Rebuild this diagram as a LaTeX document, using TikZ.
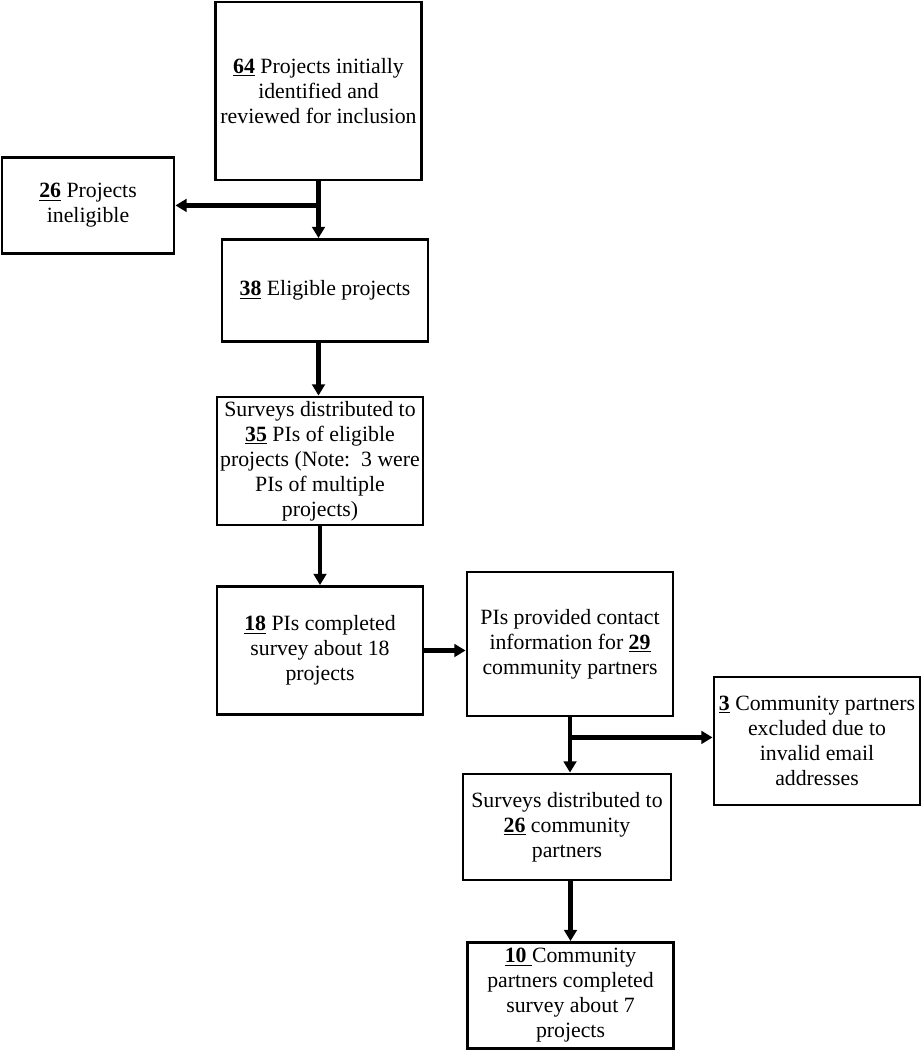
\documentclass[tikz,border=0pt]{standalone}
\usepackage{fontspec}
\setmainfont{Liberation Serif}
\usetikzlibrary{arrows.meta,positioning}
\newcommand{\cnt}[1]{\underline{\textbf{#1}}}

\begin{document}
\begin{tikzpicture}[x=0.025cm,y=-0.025cm,
  box/.style={draw,line width=2pt,align=center,inner sep=2pt,
    font=\fontsize{15.5}{17.8}\selectfont,minimum width=5.15cm},
  arr/.style={line width=3pt,-{Triangle[length=8pt,width=9pt]}}]
\useasboundingbox (0,0) rectangle (921,1050);
% left column
\node[box,minimum height=4.45cm] (top) at (318.5,91) {\cnt{64} Projects initially\\identified and\\reviewed for inclusion};
\node[box,minimum width=4.3cm,minimum height=2.4cm] (inel) at (88,205.5) {\cnt{26} Projects\\ineligible};
\node[box,minimum height=2.55cm] (elig) at (325,290.5) {\cnt{38} Eligible projects};
\node[box,minimum height=3.2cm] (surv) at (320,461) {Surveys distributed to\\\cnt{35} PIs of eligible\\projects (Note:\ \ 3 were\\PIs of multiple\\projects)};
\node[box,minimum height=3.2cm] (pidone) at (320,650.5) {\cnt{18} PIs completed\\survey about 18\\projects};
% right column
\node[box,minimum height=3.6cm] (contact) at (570,644) {PIs provided contact\\information for \cnt{29}\\community partners};
\node[box,minimum height=3.2cm] (excl) at (817,741) {\cnt{3} Community partners\\excluded due to\\invalid email\\addresses};
\node[box,minimum width=5.2cm,minimum height=2.65cm] (s26) at (567,827) {Surveys distributed to\\\cnt{26} community\\partners};
\node[box,minimum height=2.65cm] (final) at (570.5,995.5) {\underline{\textbf{10}\ }Community\\partners completed\\survey about 7\\projects};
% connectors
\path (top.south) ++(0,24) coordinate (j1);
\draw[arr] (top.south) -- (top.south |- elig.north);
\draw[arr] (j1) -- (j1 -| inel.east);
\draw[arr] (elig.south -| top.south) -- (surv.north -| top.south);
\draw[arr] (surv) -- (pidone);
\draw[arr] (pidone.east) -- (pidone.east -| contact.west);
\path (contact.south) ++(0,20) coordinate (j2);
\draw[arr] (contact.south) -- (contact.south |- s26.north);
\draw[arr] (j2) -- (j2 -| excl.west);
\draw[arr] (final.north |- s26.south) -- (final.north);
\end{tikzpicture}
\end{document}
